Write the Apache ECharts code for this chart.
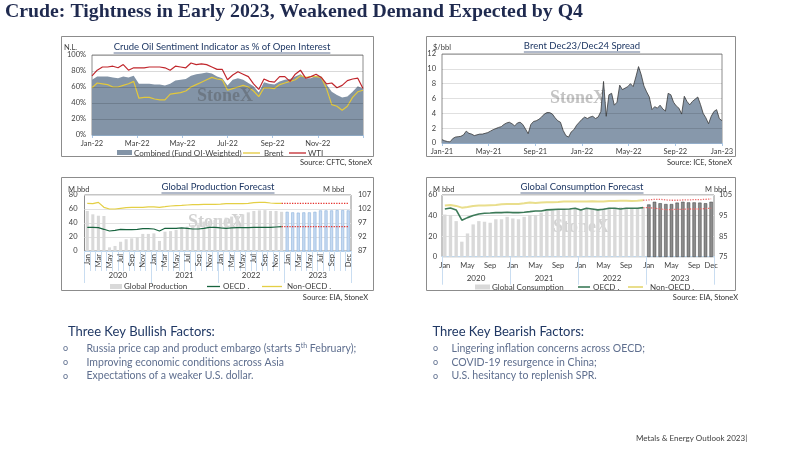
<!DOCTYPE html>
<html lang="en">
<head>
<meta charset="UTF-8">
<title>Crude: Tightness in Early 2023</title>
<script src="https://cdn.jsdelivr.net/npm/echarts/dist/echarts.min.js"></script>
<style>
html, body { margin: 0; padding: 0; background: #fff; }
#main { width: 800px; height: 450px; }
</style>
</head>
<body>
<div id="main"></div>
<script type="text/javascript">
// ---- data ----
// sentiment indicator, weekly Jan-22 .. Dec-22 (% of open interest)
var sentTicks = ['Jan-22', 'Mar-22', 'May-22', 'Jul-22', 'Sep-22', 'Nov-22', ''];
var sentCombined = [69,73,73,73,72,71,73,72,74,64,64,64,63,63,62,64,68,69,70,74,76,77,78,77,73,71,62,69,71,69,65,61,53,66,64,63,67,69,70,73,76,71,71,74,73,63,54,50,47,48,54,61,58];
var sentBrent = [59,65,64,63,60,60,62,64,67,46,47,47,45,44,44,51,52,53,55,60,63,66,69,72,70,69,56,58,60,62,60,55,48,59,59,58,63,65,67,69,74,72,73,73,72,58,38,36,31,36,47,54,56];
var sentWti = [74,81,85,85,86,84,88,81,84,84,84,85,85,85,84,81,86,85,84,90,88,89,88,85,82,82,69,75,79,76,73,64,57,70,67,66,73,73,67,76,81,71,73,76,72,64,65,59,62,68,70,71,58];

// Brent Dec23/Dec24 spread, weekly Jan-21 .. Dec-22 ($/bbl)
var spreadTicks = ['Jan-21', 'May-21', 'Sep-21', 'Jan-22', 'May-22', 'Sep-22', 'Jan-23'];
var spread = [0.45,0.3,0.2,0.15,0.6,0.8,0.85,0.9,1.1,1.6,1.3,1.2,1.0,1.1,1.2,1.2,1.3,1.4,1.6,1.8,
  1.95,2.1,2.2,2.5,2.7,2.8,2.6,2.3,2.7,2.8,2.5,1.9,1.25,2.5,2.9,3.0,3.2,3.5,3.9,4.1,
  4.1,3.9,3.4,3.0,2.8,1.7,1.0,0.8,1.5,1.8,2.4,2.8,3.2,3.5,3.3,3.5,3.6,3.3,3.5,4.25,
  8.3,3.6,6.5,6.7,5.1,5.5,7.8,7.2,7.4,7.6,8.0,7.6,8.9,10.3,9.2,7.7,6.9,6.2,4.5,4.9,
  4.7,5.1,4.6,4.3,6.7,6.5,5.5,5.0,4.7,3.9,6.3,5.6,5.15,5.6,5.9,6.2,5.2,4.0,3.4,2.6,
  3.6,4.25,4.5,3.3,3.0];

// monthly categories 2020 .. 2023
var months = ['Jan','Feb','Mar','Apr','May','Jun','Jul','Aug','Sep','Oct','Nov','Dec'];
var years = ['2020', '2021', '2022', '2023'];

// global production (M bbd)
var prodGlobal = [101.3,100.1,99.6,99.5,88.3,88.8,90.3,91.2,91.5,91.9,93.1,93.1,
  93.3,90.6,93.9,94.1,94.5,95.1,95.7,96.3,96.5,97.5,97.7,98.1,
  98.7,98.9,99.3,99.6,100.1,100.8,101.3,101.5,101.6,101.3,101.3,101.0,
  101.0,100.8,100.7,100.8,100.8,101.0,101.5,101.5,101.5,101.6,101.6,101.5];
var prodOecd = [33.8,33.8,33.3,31.0,28.6,29.5,31.0,30.5,30.5,31.0,31.9,31.9,
  31.4,28.6,32.4,32.4,32.4,32.9,32.4,31.4,31.4,32.4,33.8,33.8,
  32.9,32.4,32.9,33.3,33.3,33.3,33.8,33.8,33.8,33.8,34.3,34.8];
var prodNonOecd = [68.0,67.6,69.5,62.4,60.0,60.0,61.0,62.0,62.4,62.4,62.4,62.9,
  62.9,62.4,63.3,64.3,64.8,65.2,65.7,66.2,66.2,66.7,66.7,66.7,
  67.1,67.6,67.6,67.6,67.6,68.1,69.0,69.5,69.5,68.6,68.1,68.1];
var prodOecdFcst = [34.8,34.8,34.8,34.8,34.8,34.8,34.8,34.8,34.8,34.8,34.8,34.8];
var prodNonOecdFcst = [68.1,68.1,68.1,68.1,68.1,68.1,68.1,68.1,68.1,68.1,68.1,68.1];

// global consumption (M bbd)
var consGlobal = [95.5,95.3,92.3,82.3,86.3,90.7,92.3,92.0,91.5,93.2,93.2,94.4,
  93.6,93.2,94.4,95.3,95.3,96.4,97.2,97.4,97.7,98.0,98.2,98.5,
  98.2,98.5,98.2,98.0,98.5,98.8,98.8,99.0,98.8,98.5,98.5,98.8,
  100.4,101.7,101.0,100.6,100.6,101.3,101.7,101.4,101.4,101.3,101.0,101.7];
var consOecd = [46.4,47.4,45.5,35.5,38.0,40.0,41.6,42.2,42.5,42.9,42.9,43.2,
  42.9,42.9,43.2,43.8,44.5,44.5,45.5,45.8,46.1,46.1,46.4,47.1,
  45.5,47.1,46.4,45.5,46.1,47.1,47.1,46.4,47.1,47.1,47.1,47.7];
var consNonOecd = [49.7,50.3,49.4,47.7,48.4,49.4,49.7,49.7,50.0,50.3,51.0,51.3,
  51.3,51.3,51.9,52.6,52.3,52.6,52.9,52.9,53.2,53.6,53.6,53.6,
  53.6,53.6,53.9,53.6,53.6,54.2,54.2,54.5,54.5,54.2,54.5,54.9];
var consOecdFcst = [47.7,47.1,46.4,45.8,45.8,46.1,46.1,46.4,46.4,46.4,46.8,47.1];
var consNonOecdFcst = [55.2,55.8,55.8,55.2,54.9,54.9,55.2,55.2,55.5,55.5,55.8,56.2];

// ---- helpers ----
var monthCats = [];
years.forEach(function (y) { months.forEach(function (m) { monthCats.push(m + '-' + y); }); });

function xy(arr, step) {
    return arr.map(function (v, i) { return [i * step, v]; });
}
// forecast line starts at the last actual point
function fcst(actual, fc) {
    var out = actual.map(function () { return null; });
    out[out.length - 1] = actual[actual.length - 1];
    return out.concat(fc);
}

var ctx = document.createElement('canvas').getContext('2d');
function tw(s, font) { ctx.font = font; return ctx.measureText(s).width; }

var FONT = 'Lato';
var LBL = '#404040';
function lbl(extra) {
    return Object.assign({color: LBL, fontSize: 7.5, fontFamily: FONT, showMinLabel: true, showMaxLabel: true}, extra || {});
}

// ---- slide graphics (frames, titles, legends, texts) ----
var g = [];
function T(x, y, s, font, fill, align, extra) {
    var e = {type: 'text', x: x, y: y, z: 50, silent: true,
        style: {text: s, font: font, fill: fill || LBL, align: align || 'left', textAlign: align || 'left',
            verticalAlign: 'middle', textVerticalAlign: 'middle'}};
    if (extra) Object.assign(e, extra);
    g.push(e);
    return e;
}
function L(x1, y1, x2, y2, stroke, w, dash) {
    g.push({type: 'line', z: 50, silent: true, shape: {x1: x1, y1: y1, x2: x2, y2: y2},
        style: {stroke: stroke, lineWidth: w || 1, lineDash: dash || null}});
}
function R(x, y, w, h, fill, stroke) {
    g.push({type: 'rect', z: 50, silent: true, shape: {x: x, y: y, width: w, height: h},
        style: {fill: fill || 'none', stroke: stroke || null, lineWidth: 1}});
}
function ptitle(cx, y, s) {
    var f = '9.5px Lato';
    var w = tw(s, f);
    T(cx, y, s, f, '#1f3864', 'center');
    L(cx - w / 2, y + 6, cx + w / 2, y + 6, '#1f3864', 0.7);
}
function mark(cx, cy, fill, z) {
    T(cx, cy, 'StoneX', 'bold 18px "Liberation Serif"', fill, 'center', {z: z});
}

// main title
var titleText = 'Crude: Tightness in Early 2023, Weakened Demand Expected by Q4';
var tf = 'bold 19px "Liberation Serif"';
T(5, 12, titleText, tf, '#1f2a4f', 'left', {scaleX: 578 / tw(titleText, tf)});

// panel frames
R(61.5, 36.5, 312, 120, null, '#8c8c8c');
R(426.5, 36.5, 309, 120, null, '#8c8c8c');
R(61.5, 177.5, 312, 113, null, '#8c8c8c');
R(426.5, 177.5, 309, 113, null, '#8c8c8c');

ptitle(222, 47, 'Crude Oil Sentiment Indicator as % of Open Interest');
ptitle(582, 46, 'Brent Dec23/Dec24 Spread');
ptitle(218, 187, 'Global Production Forecast');
ptitle(582, 187, 'Global Consumption Forecast');

var small = '7.5px Lato';
T(64, 48, 'N.L.', small);
T(433, 48, '$/bbl', small);
T(68, 190, 'M bbd', small);
T(323, 190, 'M bbd', small);
T(433, 190, 'M bbd', small);
T(705, 190, 'M bbd', small);

var src = '7.5px Lato';
T(372, 163, 'Source: CFTC, StoneX', src, '#333', 'right');
T(732, 163, 'Source: ICE, StoneX', src, '#333', 'right');
T(368, 298, 'Source: EIA, StoneX', src, '#333', 'right');
T(738, 298, 'Source: EIA, StoneX', src, '#333', 'right');

// watermarks
mark(225, 96, 'rgba(70,70,70,0.35)', 60);
mark(578, 98, '#c4c4c4', 1);
mark(216, 222, '#d2d2d2', 1);
mark(581, 227, '#d2d2d2', 1);

// legends
var lf = '8px Lato';
R(117, 150, 15, 5, '#8394a7');
T(134, 153, 'Combined (Fund OI-Weighted)', lf);
L(243, 153, 260, 153, '#e3c83a', 1.3);
T(264, 153, 'Brent', lf);
L(289, 153, 306, 153, '#c1272d', 1.3);
T(308, 153, 'WTI', lf);

R(110, 284, 12, 5, '#d9d9d9');
T(124, 286.5, 'Global Production', lf);
L(207, 286.5, 220, 286.5, '#17633e', 1.3);
T(223, 286.5, 'OECD .', lf);
L(262, 286.5, 282, 286.5, '#e4cf45', 1.3);
T(287, 286.5, 'Non-OECD .', lf);

R(475, 284.5, 15, 5, '#d9d9d9');
T(492, 287, 'Global Consumption', lf);
L(578, 287, 590, 287, '#3c7a58', 1.6);
T(593, 287, 'OECD .', lf);
L(628, 287, 643, 287, '#e9de8c', 2);
T(650, 287, 'Non-OECD .', lf);

// bullet lists
var hf = '13px Lato', bf = '10.5px Lato', of = '9px Lato';
var bullCol = '#5f6f8f', headCol = '#203864';
T(68, 332, 'Three Key Bullish Factors:', hf, headCol);
var b1a = 'Russia price cap and product embargo (starts 5';
var wA = tw(b1a, bf), wTh = tw('th', '7px Lato');
T(63, 348.5, 'o', of, bullCol);
T(86.5, 348.5, b1a, bf, bullCol);
T(86.5 + wA, 345.5, 'th', '7px Lato', bullCol);
T(86.5 + wA + wTh, 348.5, ' February);', bf, bullCol);
T(63, 362.5, 'o', of, bullCol);
T(86.5, 362.5, 'Improving economic conditions across Asia', bf, bullCol);
T(63, 376, 'o', of, bullCol);
T(86.5, 376, 'Expectations of a weaker U.S. dollar.', bf, bullCol);

T(432.5, 332, 'Three Key Bearish Factors:', hf, headCol);
T(433, 348.5, 'o', of, bullCol);
T(451.5, 348.5, 'Lingering inflation concerns across OECD;', bf, bullCol);
T(433, 362.5, 'o', of, bullCol);
T(451.5, 362.5, 'COVID-19 resurgence in China;', bf, bullCol);
T(433, 376, 'o', of, bullCol);
T(451.5, 376, 'U.S. hesitancy to replenish SPR.', bf, bullCol);

T(636, 438, 'Metals & Energy Outlook 2023|', '8px Lato', '#404040');

// ---- chart ----
var myChart = echarts.init(document.getElementById('main'));

var gridBase = {show: true, borderColor: '#8c8c8c', borderWidth: 1, backgroundColor: '#fff', containLabel: false, outerBoundsMode: 'none'};
var blueLine = {show: true, lineStyle: {color: '#a9c7e6', width: 1}};
var noLine = {show: false};

var option = {
    animation: false,
    backgroundColor: '#fff',
    textStyle: {fontFamily: FONT},
    grid: [
        Object.assign({left: 92, top: 55, width: 271, height: 80}, gridBase),
        Object.assign({left: 442, top: 54, width: 280, height: 89}, gridBase),
        Object.assign({left: 84.5, top: 195, width: 266.5, height: 56}, gridBase),
        Object.assign({left: 442, top: 195, width: 272, height: 61.7}, gridBase)
    ],
    xAxis: [
        {gridIndex: 0, type: 'value', min: 0, max: 12, interval: 2, splitLine: noLine,
            axisLine: blueLine, axisTick: {show: true, length: 3, lineStyle: {color: '#a9c7e6'}},
            axisLabel: lbl({margin: 5, formatter: function (v) { return sentTicks[Math.round(v / 2)] || ''; }})},
        {gridIndex: 1, type: 'value', min: 0, max: 24, interval: 4, splitLine: noLine,
            axisLine: blueLine, axisTick: {show: true, length: 3, lineStyle: {color: '#a9c7e6'}},
            axisLabel: lbl({margin: 5, formatter: function (v) { return spreadTicks[Math.round(v / 4)] || ''; }})},
        {gridIndex: 2, type: 'category', data: monthCats, boundaryGap: true,
            axisLine: {show: true, lineStyle: {color: '#bdd7ee'}},
            axisTick: {show: true, interval: 0, length: 20, lineStyle: {color: '#c9ddf1'}},
            axisLabel: lbl({rotate: 90, interval: 1, margin: 3, fontSize: 7.5,
                formatter: function (v) { return v.slice(0, 3); }})},
        {gridIndex: 2, type: 'category', data: years, boundaryGap: true, position: 'bottom',
            axisLine: noLine, axisTick: {show: true, interval: 0, length: 32, lineStyle: {color: '#c9ddf1'}},
            axisLabel: lbl({margin: 20, fontSize: 8})},
        {gridIndex: 3, type: 'category', data: monthCats, boundaryGap: true,
            axisLine: {show: true, lineStyle: {color: '#bdd7ee'}}, axisTick: noLine,
            axisLabel: lbl({interval: 3, margin: 5, fontSize: 7.5,
                formatter: function (v) { return v.slice(0, 3); }})},
        {gridIndex: 3, type: 'category', data: years, boundaryGap: true, position: 'bottom',
            axisLine: noLine, axisTick: {show: true, interval: 0, length: 28, lineStyle: {color: '#c9ddf1'}},
            axisLabel: lbl({margin: 18, fontSize: 8})}
    ],
    yAxis: [
        {gridIndex: 0, type: 'value', min: 0, max: 100, interval: 20, z: 5,
            axisLine: noLine, axisTick: noLine, axisLabel: lbl({formatter: '{value}%', margin: 6}),
            splitLine: {lineStyle: {color: 'rgba(0,0,0,0.15)', width: 1}}},
        {gridIndex: 1, type: 'value', min: 0, max: 12, interval: 2, z: 5,
            axisLine: noLine, axisTick: noLine, axisLabel: lbl({margin: 6}),
            splitLine: {lineStyle: {color: 'rgba(0,0,0,0.12)', width: 1}}},
        {gridIndex: 2, type: 'value', min: 0, max: 80, interval: 20,
            axisLine: noLine, axisTick: noLine, axisLabel: lbl({margin: 7}),
            splitLine: {lineStyle: {color: '#e2e2e2', width: 1}}},
        {gridIndex: 2, type: 'value', position: 'right', min: 87, max: 107, interval: 5,
            axisLine: noLine, axisTick: noLine, axisLabel: lbl({margin: 7}), splitLine: noLine},
        {gridIndex: 3, type: 'value', min: 0, max: 60, interval: 20,
            axisLine: noLine, axisTick: noLine, axisLabel: lbl({margin: 5}),
            splitLine: {lineStyle: {color: '#e2e2e2', width: 1}}},
        {gridIndex: 3, type: 'value', position: 'right', min: 75, max: 105, interval: 10,
            axisLine: noLine, axisTick: noLine, axisLabel: lbl({margin: 5}), splitLine: noLine}
    ],
    series: [
        // sentiment
        {name: 'Combined (Fund OI-Weighted)', type: 'line', xAxisIndex: 0, yAxisIndex: 0,
            data: xy(sentCombined, 12 / 52), symbol: 'none', lineStyle: {width: 0},
            areaStyle: {color: '#8394a7', opacity: 1}},
        {name: 'Brent', type: 'line', xAxisIndex: 0, yAxisIndex: 0, data: xy(sentBrent, 12 / 52),
            symbol: 'none', lineStyle: {color: '#e3c83a', width: 1.2}},
        {name: 'WTI', type: 'line', xAxisIndex: 0, yAxisIndex: 0, data: xy(sentWti, 12 / 52),
            symbol: 'none', lineStyle: {color: '#c1272d', width: 1.2}},
        // spread
        {name: 'Brent Dec23/Dec24', type: 'line', xAxisIndex: 1, yAxisIndex: 1, data: xy(spread, 24 / 104),
            symbol: 'none', lineStyle: {color: '#3b3b3b', width: 0.8},
            areaStyle: {color: '#8798ab', opacity: 1}},
        // production
        {name: 'Global Production', type: 'bar', xAxisIndex: 2, yAxisIndex: 3, barWidth: '55%',
            data: prodGlobal.map(function (v, i) {
                return {value: v, itemStyle: i >= 36 ? {color: '#c6daf1', borderColor: '#8fb4de', borderWidth: 0.6} : {color: '#d9d9d9'}};
            })},
        {name: 'OECD .', type: 'line', xAxisIndex: 2, yAxisIndex: 2, data: prodOecd,
            symbol: 'none', lineStyle: {color: '#17633e', width: 1.2}},
        {name: 'Non-OECD .', type: 'line', xAxisIndex: 2, yAxisIndex: 2, data: prodNonOecd,
            symbol: 'none', lineStyle: {color: '#e4cf45', width: 1.2}},
        {name: 'OECD fcst', type: 'line', xAxisIndex: 2, yAxisIndex: 2, data: fcst(prodOecd, prodOecdFcst),
            symbol: 'none', lineStyle: {color: '#e5322d', width: 1.3, type: 'dotted'}},
        {name: 'Non-OECD fcst', type: 'line', xAxisIndex: 2, yAxisIndex: 2, data: fcst(prodNonOecd, prodNonOecdFcst),
            symbol: 'none', lineStyle: {color: '#e5322d', width: 1.3, type: 'dotted'}},
        // consumption
        {name: 'Global Consumption', type: 'bar', xAxisIndex: 4, yAxisIndex: 5, barWidth: '60%',
            data: consGlobal.map(function (v, i) {
                return {value: v, itemStyle: i >= 36 ? {color: '#8c8c8c', borderColor: '#3f3f3f', borderWidth: 0.5} : {color: '#d9d9d9'}};
            })},
        {name: 'OECD cons', type: 'line', xAxisIndex: 4, yAxisIndex: 4, data: consOecd,
            symbol: 'none', lineStyle: {color: '#3c7a58', width: 1.6}},
        {name: 'Non-OECD cons', type: 'line', xAxisIndex: 4, yAxisIndex: 4, data: consNonOecd,
            symbol: 'none', lineStyle: {color: '#e9de8c', width: 2}},
        {name: 'OECD cons fcst', type: 'line', xAxisIndex: 4, yAxisIndex: 4, data: fcst(consOecd, consOecdFcst),
            symbol: 'none', lineStyle: {color: '#ec6a6a', width: 1.3, type: 'dotted'}},
        {name: 'Non-OECD cons fcst', type: 'line', xAxisIndex: 4, yAxisIndex: 4, data: fcst(consNonOecd, consNonOecdFcst),
            symbol: 'none', lineStyle: {color: '#ec6a6a', width: 1.3, type: 'dotted'}}
    ],
    graphic: {elements: g}
};

myChart.setOption(option);
</script>
</body>
</html>
